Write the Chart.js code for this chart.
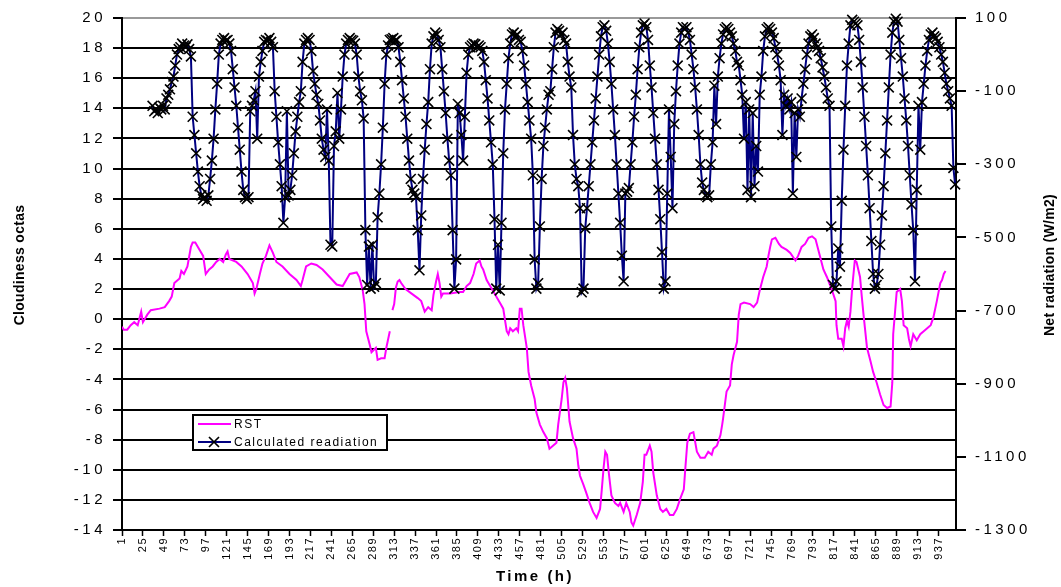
<!DOCTYPE html>
<html>
<head>
<meta charset="utf-8">
<script src="https://cdn.jsdelivr.net/npm/chart.js@4.4.1/dist/chart.umd.min.js"></script>
<style>
  html, body { margin: 0; padding: 0; background: #fff; }
  canvas { display: block; }
</style>
</head>
<body>
<canvas id="chart" width="1061" height="587"></canvas>
<script>
// Axis texts
const xTitle = "Time (h)";
const yTitle = "Cloudiness octas";
const y1Title = "Net radiation (W/m2)";
const legendNames = ["RST", "Calculated readiation"];

// Tick labels
const xTickHours = [1, 25, 49, 73, 97, 121, 145, 169, 193, 217, 241, 265, 289, 313, 337, 361, 385, 409, 433, 457,
  481, 505, 529, 553, 577, 601, 625, 649, 673, 697, 721, 745, 769, 793, 817, 841, 865, 889, 913, 937];
const rightTicks = [100, -100, -300, -500, -700, -900, -1100, -1300];

// RST (left axis); null = gap in the line
const rstHours = [
  1, 3, 7, 11, 15, 19, 23, 25, 30, 34,
  44, 50, 55, 58, 61, 67, 69, 72, 76, 80,
  82, 85, 90, 94, 97, 101, 105, 109, 113, 117,
  120, 122, 124, 132, 138, 145, 151, 153, 155, 159,
  162, 166, 170, 174, 178, 185, 193, 201, 206, 208,
  212, 218, 224, 231, 239, 247, 254, 258, 262, 270,
  273, 277, 279, 281, 285, 287, 292, 294, 298, 302,
  304, 308, 310, 311, 313, 315, 317, 319, 321, 326,
  333, 340, 344, 348, 352, 356, 358, 361, 363, 365,
  367, 369, 377, 388, 392, 396, 400, 404, 407, 411,
  413, 415, 419, 423, 427, 432, 435, 438, 442, 444,
  446, 449, 453, 455, 457, 459, 461, 465, 467, 470,
  474, 476, 480, 484, 488, 491, 495, 499, 501, 505,
  507, 509, 511, 514, 518, 522, 524, 526, 530, 533,
  537, 541, 545, 549, 551, 553, 555, 557, 559, 562,
  566, 570, 572, 576, 579, 583, 585, 587, 591, 595,
  598, 600, 602, 606, 608, 610, 614, 618, 621, 625,
  629, 633, 637, 641, 645, 647, 649, 652, 656, 660,
  664, 669, 673, 677, 679, 683, 687, 689, 690, 694,
  698, 700, 702, 706, 708, 710, 714, 721, 725, 729,
  732, 736, 740, 742, 744, 746, 750, 754, 757, 763,
  767, 773, 776, 780, 784, 788, 792, 796, 801, 805,
  809, 815, 819, 820, 822, 826, 828, 830, 832, 834,
  836, 838, 840, 841, 843, 847, 849, 851, 855, 859,
  862, 866, 870, 874, 878, 882, 884, 885, 889, 891,
  893, 895, 897, 901, 903, 905, 908, 912, 916, 920,
  924, 928, 931, 935, 937, 939, 941, 943, 945
];
const rstValues = [
  -0.5, -0.7, -0.7, -0.4, -0.2, -0.4, 0.5, -0.2, 0.3, 0.6,
  0.7, 0.8, 1.2, 1.5, 2.4, 2.7, 3.2, 3.0, 3.5, 4.8,
  5.1, 5.1, 4.6, 4.2, 3.0, 3.3, 3.5, 3.8, 4.0, 3.8,
  4.3, 4.5, 4.0, 3.8, 3.5, 3.0, 2.4, 1.7, 2.0, 3.0,
  3.7, 4.2, 4.9, 4.4, 3.8, 3.5, 3.0, 2.6, 2.2, 2.6,
  3.5, 3.7, 3.6, 3.3, 2.8, 2.3, 2.2, 2.6, 3.0, 3.1,
  2.8, 1.9, 1.0, -0.8, -1.7, -2.2, -1.9, -2.7, -2.6, -2.6,
  -1.9, -0.8, null, 0.6, 1.0, 2.1, 2.5, 2.6, 2.4, 2.0,
  1.7, 1.4, 1.2, 0.5, 0.8, 0.6, 1.6, 2.5, 3.0, 2.4,
  1.5, 1.7, 1.7, 1.8, 1.8, 2.2, 2.4, 3.0, 3.7, 3.9,
  3.5, 3.3, 2.6, 2.2, 1.8, 1.3, 1.0, 0.7, -0.8, -1.0,
  -0.6, -0.8, -0.6, -0.8, 0.7, 0.7, -0.4, -1.9, -3.5, -4.4,
  -5.3, -6.2, -7.0, -7.5, -7.9, -8.6, -8.4, -8.2, -7.0, -5.3,
  -4.2, -3.9, -4.6, -6.8, -7.9, -8.6, -9.7, -10.4, -11.0, -11.5,
  -12.2, -12.8, -13.2, -12.6, -11.3, -9.9, -8.8, -9.0, -10.2, -11.7,
  -12.2, -12.4, -12.2, -12.8, -12.2, -12.8, -13.5, -13.7, -13.0, -12.2,
  -10.8, -9.0, -9.0, -8.4, -8.8, -10.2, -11.7, -12.6, -12.8, -12.6,
  -13.0, -13.0, -12.6, -11.9, -11.3, -9.7, -8.2, -7.6, -7.5, -8.8,
  -9.2, -9.2, -8.8, -9.0, -8.6, -8.4, -7.7, -7.0, -6.6, -4.8,
  -4.4, -3.0, -2.4, -1.5, 0.3, 1.0, 1.1, 1.0, 0.8, 1.1,
  1.9, 2.8, 3.5, 4.2, 4.8, 5.3, 5.4, 5.0, 4.8, 4.6,
  4.4, 3.9, 4.2, 4.8, 5.0, 5.4, 5.5, 5.3, 4.2, 3.3,
  2.8, 1.9, 1.2, -0.4, -1.3, -1.3, -1.8, -0.6, -0.1, -0.5,
  0.5, 2.1, 3.3, 3.9, 3.8, 2.8, 1.5, 0.3, -1.9, -2.8,
  -3.5, -4.2, -5.0, -5.7, -5.9, -5.8, -4.2, -1.0, 1.8, 1.9,
  2.0, 1.2, -0.4, -0.6, -1.3, -1.8, -1.0, -1.4, -1.0, -0.8,
  -0.6, -0.4, 0.1, 1.2, 1.8, 2.4, 2.6, 3.0, 3.2
];

// Calculated radiation (right axis, W/m2), one reading every 2 h from hour 36
const radFirstHour = 36;
const radStepHours = 2;
const radWatts = [
  -140, -155, -150, -160, -145, -150, -140, -150, -120, -110,
  -95, -75, -60, -30, 0, 15, 20, 30, 25, 20,
  28, 15, -5, -170, -220, -270, -320, -360, -385, -395,
  -390, -400, -385, -340, -290, -230, -150, -80, 0, 30,
  40, 45, 38, 40, 30, 10, -40, -90, -140, -200,
  -260, -320, -370, -390, -395, -390, -155, -140, -125, -100,
  -230, -60, -20, 10, 35, 40, 38, 45, 35, 20,
  -100, -170, -240, -300, -360, -460, -390, -155, -385, -370,
  -330, -270, -210, -170, -130, -100, -20, 30, 40, 45,
  40, 10, -45, -80, -110, -135, -180, -230, -260, -280,
  -150, -290, -520, -525, -250, -210, -105, -230, -150, -60,
  0, 30, 40, 45, 40, 38, 30, 0, -60, -100,
  -125, -175, -480, -630, -525, -640, -520, -635, -625, -445,
  -380, -300, -200, -80, 0, 25, 40, 42, 45, 38,
  40, 20, -20, -70, -120, -170, -230, -290, -340, -370,
  -380, -390, -480, -590, -440, -340, -260, -190, -130, -40,
  30, 50, 60, 55, 40, 20, -40, -100, -160, -230,
  -290, -330, -480, -640, -560, -135, -160, -220, -290, -170,
  -50, 0, 20, 25, 30, 28, 20, 25, 20, 10,
  -20, -70, -120, -180, -240, -300, -450, -640, -520, -645,
  -460, -270, -150, -80, -10, 30, 55, 60, 50, 55,
  40, 35, 10, -30, -80, -130, -180, -230, -330, -560,
  -640, -625, -470, -340, -250, -200, -150, -110, -100, -40,
  20, 60, 70, 65, 55, 60, 40, 30, -20, -60,
  -90, -220, -300, -340, -360, -420, -650, -640, -475, -420,
  -360, -300, -240, -180, -120, -60, 0, 50, 75, 80,
  65, 30, -20, -80, -150, -220, -300, -380, -460, -550,
  -620, -380, -375, -365, -300, -240, -170, -110, -40, 20,
  60, 80, 85, 75, 40, -30, -90, -160, -230, -300,
  -370, -450, -540, -640, -620, -380, -150, -280, -420, -190,
  -100, -30, 30, 60, 75, 70, 75, 60, 40, 0,
  -40, -90, -150, -220, -300, -350, -370, -385, -390, -385,
  -300, -240, -85, -190, -60, -10, 30, 55, 70, 75,
  70, 60, 50, 30, 10, -20, -30, -70, -110, -230,
  -130, -370, -150, -390, -160, -360, -250, -320, -110, -60,
  10, 50, 70, 75, 70, 60, 45, 20, 0, -30,
  -70, -220, -110, -140, -120, -150, -130, -380, -160, -280,
  -150, -170, -120, -80, -40, 0, 30, 50, 55, 45,
  30, 20, 10, -10, -35, -60, -90, -120, -140, -470,
  -630, -640, -620, -530, -580, -400, -260, -140, -30, 30,
  80, 95, 90, 85, 80, 40, -20, -90, -170, -250,
  -330, -420, -510, -600, -640, -630, -600, -520, -440, -360,
  -270, -180, -90, 0, 60, 90, 98, 90, 40, -10,
  -60, -120, -180, -250, -330, -410, -480, -620, -370, -140,
  -260, -130, -80, -30, 10, 40, 55, 60, 50, 45,
  35, 20, 0, -20, -50, -80, -100, -120, -140, -310,
  -355
];

const FONT = "'Liberation Sans', Arial, Helvetica, sans-serif";
const labelSpacing = { x: "1.5px", y: "3.5px", y1: "3.5px" };

const rstPoints = rstHours.map((h, i) => ({ x: h, y: rstValues[i] }));
const radPoints = radWatts.map((w, i) => ({ x: radFirstHour + i * radStepHours, y: w }));

// draws letter-spaced tick labels, axis titles and the boxed legend
const textPlugin = {
  id: "texts",
  beforeDraw(chart) {
    for (const id in labelSpacing) {
      const s = chart.scales[id];
      if (s && !s._spaced) {
        const orig = s.drawLabels.bind(s);
        s.drawLabels = area => {
          s.ctx.save();
          s.ctx.letterSpacing = labelSpacing[id];
          orig(area);
          s.ctx.restore();
        };
        s._spaced = true;
      }
    }
  },
  afterDraw(chart) {
    const c = chart.ctx;
    const a = chart.chartArea;
    c.save();
    c.fillStyle = "#000";
    c.textAlign = "center";
    c.textBaseline = "middle";

    c.font = "bold 14px " + FONT;
    c.letterSpacing = "0.3px";
    c.save();
    c.translate(20, 265);
    c.rotate(-Math.PI / 2);
    c.fillText(yTitle, 0, 0);
    c.restore();
    c.save();
    c.translate(1050, 265);
    c.rotate(-Math.PI / 2);
    c.fillText(y1Title, 0, 0);
    c.restore();

    c.font = "bold 15px " + FONT;
    c.letterSpacing = "2.5px";
    c.fillText(xTitle, (a.left + a.right) / 2 - 4, 577);

    // legend
    const lx = 193, ly = 415, lw = 194, lh = 35;
    c.fillStyle = "#fff";
    c.fillRect(lx, ly, lw, lh);
    c.strokeStyle = "#000";
    c.lineWidth = 2;
    c.strokeRect(lx, ly, lw, lh);

    c.lineWidth = 2;
    c.strokeStyle = "#ff00ff";
    c.beginPath(); c.moveTo(198, 424); c.lineTo(231, 424); c.stroke();
    c.strokeStyle = "#000080";
    c.beginPath(); c.moveTo(198, 442); c.lineTo(231, 442); c.stroke();
    c.strokeStyle = "#000";
    c.lineWidth = 1.7;
    c.beginPath();
    c.moveTo(209, 437); c.lineTo(219, 447);
    c.moveTo(219, 437); c.lineTo(209, 447);
    c.stroke();

    c.fillStyle = "#000";
    c.textAlign = "left";
    c.font = "12px " + FONT;
    c.letterSpacing = "1.5px";
    c.fillText(legendNames[0], 234, 425);
    c.fillText(legendNames[1], 234, 443);
    c.restore();
  }
};

new Chart(document.getElementById("chart"), {
  type: "line",
  data: {
    datasets: [
      {
        label: legendNames[1],
        data: radPoints,
        yAxisID: "y1",
        borderColor: "#000080",
        borderWidth: 2,
        tension: 0,
        pointStyle: "crossRot",
        pointRadius: 7,
        pointBorderColor: "#000",
        pointBackgroundColor: "#000",
        pointBorderWidth: 1.6,
        clip: false,
        order: 1
      },
      {
        label: legendNames[0],
        data: rstPoints,
        yAxisID: "y",
        borderColor: "#ff00ff",
        borderWidth: 2,
        tension: 0,
        pointRadius: 0,
        spanGaps: false,
        order: 2
      }
    ]
  },
  options: {
    responsive: false,
    animation: false,
    devicePixelRatio: 1,
    layout: { padding: { top: 17, left: 0, right: 0, bottom: 0 } },
    plugins: { legend: { display: false }, tooltip: { enabled: false } },
    scales: {
      x: {
        type: "linear",
        min: 1,
        max: 957,
        afterBuildTicks: s => { s.ticks = xTickHours.map(v => ({ value: v })); },
        afterFit: s => { s.height = 57; },
        grid: { drawOnChartArea: false, drawTicks: true, tickLength: 6, tickColor: "#000", tickWidth: 1.5 },
        border: { color: "#000", width: 2 },
        ticks: {
          autoSkip: false, minRotation: 90, maxRotation: 90, padding: 1,
          color: "#000", font: { family: FONT, size: 11 },
          callback: v => String(v)
        }
      },
      y: {
        position: "left",
        min: -14,
        max: 20,
        afterFit: s => { s.width = 122; },
        grid: {
          color: ctx => (ctx.tick && ctx.tick.value === 20 ? "#999" : "#000"),
          lineWidth: 2, tickLength: 9, tickColor: "#000"
        },
        border: { color: "#000", width: 2 },
        ticks: {
          stepSize: 2, padding: 7, color: "#000", font: { family: FONT, size: 15 },
          callback: v => String(v)
        }
      },
      y1: {
        position: "right",
        min: -1300,
        max: 100,
        afterBuildTicks: s => { s.ticks = rightTicks.map(v => ({ value: v })); },
        afterFit: s => { s.width = 105; },
        grid: { drawOnChartArea: false, tickLength: 10, tickColor: "#000", lineWidth: 2 },
        border: { color: "#000", width: 2 },
        ticks: {
          padding: 9, color: "#000", font: { family: FONT, size: 15 },
          callback: v => String(v)
        }
      }
    }
  },
  plugins: [textPlugin]
});
</script>
</body>
</html>
